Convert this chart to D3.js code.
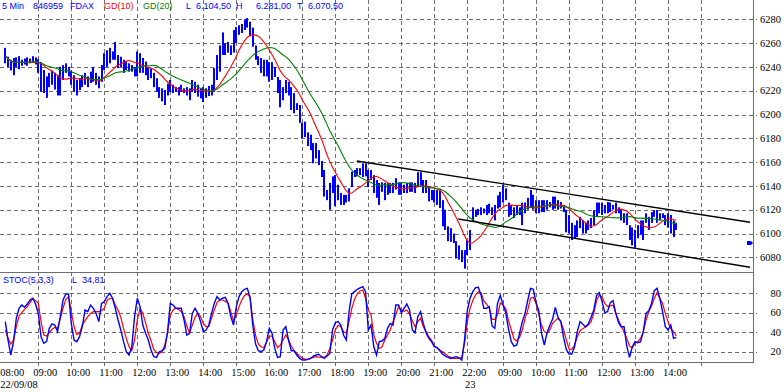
<!DOCTYPE html>
<html><head><meta charset="utf-8">
<script src="https://cdn.jsdelivr.net/npm/d3@7"></script>
<style>body{margin:0;background:#fff}svg{display:block}</style>
</head><body><svg id="c" width="784" height="392"></svg>
<script>
// ---- data (5-minute bars, FDAX 22/09/08 - 23/09/08) ----
const high = [
6256,6248.5,6246,6247.5,6248,6249,6246,6247,6248,6247,6249,6248,
6246.5,6244,6237.4,6232,6235,6237,6235,6233,6240,6241.5,6243,6240,
6237,6233,6229,6230.5,6233,6235,6232,6236,6240,6235,6232,6241.5,
6251.5,6254,6256,6253,6261,6250,6248.5,6246,6244.5,6243,6241.5,6240,
6253,6251.5,6247.5,6244.5,6240,6238.5,6235,6230.5,6223,6222,6220.6,6226,
6229,6225,6223,6223,6225,6222,6223,6222,6229,6227.5,6225,6222,
6223,6222,6224,6225,6239,6250,6258,6269,6260,6261,6258,6271,
6273.5,6275,6276,6280,6281,6278,6273,6258,6249,6247.5,6246,6246,
6244,6244,6240,6231.5,6229,6223,6229,6227.5,6223,6218,6209.5,6208,
6193,6194,6185,6183,6176,6176,6170,6161,6153.4,6136.6,6142.5,6148,
6149,6141,6134,6132.5,6132.5,6138,6152,6153.4,6155,6155,6159,6159,
6153.4,6153.4,6149,6145,6142.5,6143,6142.5,6142.5,6142.5,6142.5,6146.5,6143,
6143,6141,6142.5,6143,6143,6142.5,6151.5,6151.5,6145,6145,6139,6136.6,
6136.6,6136.6,6136.6,6128,6120,6106,6104.5,6100,6093.5,6090,6086,6086,
6094.5,
6103,6122,6120,6120.6,6122,6121,6124,6125,6122,6124,6132,6135,
6141,6138,6126,6124,6122,6124,6122,6126,6126,6130,6136.6,6132.5,
6128,6128,6128,6128,6128,6126.5,6131,6131,6128,6126.5,6124,6120,
6115.5,6109,6107,6111,6114,6111,6109,6111,6113,6119.7,6126,6126,
6126,6124,6126.5,6126,6124,6126,6122,6119.7,6117,6117,6107,6105,
6103,6107,6111,6111,6117,6114,6118,6119.7,6119.7,6117,6117,6115.5,
6117,6115.5,6111,6109];
const low = [
6243,6240,6237,6233,6240,6238,6241,6242,6241,6243,6244,6242,
6235,6219,6218,6214,6223,6225,6221,6216,6216,6229,6235,6232,
6225,6219,6216,6220.5,6223,6225,6223,6226.5,6227.5,6225,6222,6227.5,
6237.4,6240,6243,6246,6246,6239,6240,6235,6237.4,6236,6236,6232,
6232,6235,6235,6233,6229,6230.5,6223,6219,6214,6211,6208,6216,
6219,6218,6219,6216,6219,6218,6216,6212,6219,6218,6215,6213.5,
6210.5,6214,6215.5,6216,6219,6229,6236,6250,6250,6252,6250,6252,
6260,6267,6268.5,6271,6273,6266,6257,6246,6241.5,6235,6232,6232,
6227.5,6229,6231.5,6218,6206,6212,6218,6216,6203.8,6201,6203.8,6193,
6180,6181,6173.5,6170,6159,6163,6157.5,6147.5,6131,6128,6120,6134,
6123,6128,6124,6124,6126,6127,6139,6147.5,6148,6149,6147.5,6148,
6139,6145,6134,6130,6124,6135,6128,6132.5,6134,6134,6137,6132.5,
6132.5,6134,6134,6135,6135,6134,6139,6140.5,6134,6134,6127,6128,
6126,6124,6121.5,6106,6103,6093.5,6093,6092,6079,6078,6076,6070.5,
6082,
6086,6110,6114,6115.5,6115.5,6117,6115.5,6117,6115.5,6111,6121,6122,
6126,6128,6114,6115.5,6113,6115.5,6115.5,6107,6117,6120,6122,6120,
6117,6117,6118,6118,6120,6122,6120,6121,6120,6121,6118,6101,
6100,6094.5,6096,6097,6104.5,6100,6100,6103,6104.5,6107,6114,6117,
6115.5,6117,6117,6118,6120,6117,6117,6111,6109,6107,6094.5,6090,
6088,6096,6099,6094.5,6109,6103,6109,6114,6109,6111,6113,6107,
6105,6100,6097,6103];
const stochK = [
50.9,32,16.6,30.3,54.3,64.6,68,65.6,69,73.1,74.9,69,
59.4,35.4,28.6,30.3,44,48.5,47.4,40.6,56,73.1,79.3,79.3,
49.1,32,30.3,35.4,45.7,62.9,61.1,68,64.6,59.4,50.9,69.7,
71.4,76.6,80,74.9,64.6,52.6,42.3,30.3,20,16.6,25.1,56,
74.9,66.3,47.4,38.9,32,21.7,14.9,14.2,20,21,23.4,40.6,
69.7,68,64.6,64.6,64.6,52.6,37.1,38.9,59.4,64.6,59.4,50.9,
40.6,42.3,47.4,59.4,69.7,76.6,73.1,74.9,75.8,69.7,56,47.4,
66.3,76.6,81.7,84.1,85.1,76,47,28,21,20,21.7,30.3,
44,38.9,23.4,14.2,14.9,42.3,45.7,32,21,21,16.6,13.1,
11.4,11.4,12.1,13.1,15.5,16.6,17.3,14.9,13.1,15.5,18.3,42.3,
49.8,50.9,47.4,37.1,32,61.1,79.3,81.7,84.1,85.5,86.9,81.7,
42.3,47.4,25.1,16.6,30.3,31,33.7,44,49.1,47.4,68,68,
60.1,64.6,69,62.9,42.3,39.5,56,61.1,49.1,39.5,33.7,30.3,
25.1,24.1,21,17.6,15.5,14.2,13.1,14.2,14.9,13.8,11.4,32,
62.2,
74.9,81.7,85.8,86.2,78.3,64.6,64.6,66.3,46.4,44,69.7,78,
68,60,43,30.3,25.8,26.9,38.9,50.9,59.4,73.1,85.1,84.1,
70.4,62.2,38.9,26.9,39.5,47.1,53.3,65.6,55.3,50.9,34.7,22.4,
17.6,17.6,25.1,40.6,50.9,48.1,45.7,48.5,55.3,62.9,77.6,80.7,
71.4,60.1,61.1,70.4,72.5,59.4,49.8,45.7,45.7,25.8,14.2,25.1,
30.3,29.3,30.3,40.6,59.4,62.2,69.7,82.7,85.1,74.9,61.1,45.7,
42.3,47.4,33.7,34.81];
const stochD = [
42.3,33.7,27.9,32,45.7,56.7,60.1,63.5,66.3,70.4,74.5,72.5,
69.7,50.9,37.1,36.1,39.5,43,45,44,54.3,64.6,73.8,76.6,
61.1,45.7,37.8,38.9,47.4,51.9,56,59.4,61.1,61.1,61.1,62.2,
64.6,72.5,74.9,74.9,68,62.9,55.3,44,33.7,25.1,21,32,
52.6,64.6,59.4,49.8,38.9,31.3,22.4,19,18.3,20,26.9,38.9,
57.7,62.9,64.6,63.5,61.1,56,46.4,38.9,47.4,55.3,59.4,56,
49.1,45.7,45.7,54.3,62.9,70.4,73.1,73.1,71.7,69.7,61.1,51.9,
57.7,66.3,73.1,77.9,79.3,76,52.6,36.8,27.9,25.1,24.1,29.9,
36.1,36.1,30.3,24.1,26.9,32,37.1,32,25.8,21,18.3,15.5,
13.5,12.1,12.4,13.1,14.2,14.9,14.5,14.2,14.2,16.6,23.4,32,
42.3,47.1,45.7,40.6,38.9,50.9,64.6,73.8,79.3,82.4,83.4,74.9,
62.9,57.7,37.1,28.6,23.4,25.1,32,37.1,42.3,50.9,57.7,66.3,
62.9,61.5,62.9,58.7,51.9,45.7,50.9,54.3,45.7,40.6,35.4,32,
25.8,24.1,21.7,20,17.6,15.5,14.2,13.1,13.1,13.1,14.2,28.6,
50.9,
64.6,72.5,78.3,81.7,80.7,72.5,69,64.6,53.3,53.3,57.7,70,
68,64,52,42.3,33,31,34.7,42.3,54.3,62.9,74.9,75.9,
69.7,58,47.4,40.6,38.9,42.3,49.1,51.9,54.3,50.9,43,32,
22.8,22.4,26.9,35.4,41.6,43.7,45.4,47.4,50.9,59.4,72.5,78.3,
76,69.7,66.3,67,68,59.4,52.6,45.7,40.6,33.7,25.8,24.1,
28.3,30.3,33.7,40.6,52.6,61.1,67,74.9,80.7,74.9,69.7,59.4,
50.9,43.7,40.6,36.1];
const priceTicks = [6080,6100,6120,6140,6160,6180,6200,6220,6240,6260,6280];
const stochTicks = [20,40,60,80];
const timeLabels = ["08:00","09:00","10:00","11:00","12:00","13:00","14:00","15:00","16:00","17:00","18:00","19:00","20:00","21:00","22:00","09:00","10:00","11:00","12:00","13:00","14:00"];
const timeBars = [0,12,24,36,48,60,72,84,96,108,120,132,144,156,168,181,193,205,217,229,241];
const gridBars = [12,24,36,48,60,72,84,96,108,120,132,144,156,168,181,193,205,217,229,241,253];
const dateLabels = ["22/09/08","23"];
const dateBars = [0,169];
const channelUpper = [[127.8,6160.9],[270.8,6109.4]];
const channelLower = [[164.7,6112.2],[270.8,6071.6]];
const lastPrice = 6092;
const maPeriods = [10,20];
const maColors = ["#ff0000","#008000"];

// ---- layout ----
const svg = d3.select("#c");
const right = 753, pTop = 0, pBot = 272, sBot = 362;
const x = d3.scaleLinear().domain([0,270.8]).range([5.3,750]);
const yP = d3.scaleLinear().domain([6080,6280]).range([257.3,19.3]);
const yS = d3.scaleLinear().domain([20,80]).range([351.7,293.3]);
const gridCol = "#6e6e6e";

const defs = svg.append("defs");
defs.append("clipPath").attr("id","cp").append("rect").attr("x",0).attr("y",pTop).attr("width",right).attr("height",pBot-pTop);
defs.append("clipPath").attr("id","cs").append("rect").attr("x",0).attr("y",pBot).attr("width",right).attr("height",sBot-pBot);

// grid
const g = svg.append("g").attr("stroke",gridCol).attr("stroke-dasharray","4,3").attr("shape-rendering","crispEdges");
priceTicks.forEach(v=>g.append("line").attr("x1",0).attr("x2",right+4).attr("y1",Math.round(yP(v))+0.5).attr("y2",Math.round(yP(v))+0.5));
stochTicks.forEach(v=>g.append("line").attr("x1",0).attr("x2",right+4).attr("y1",Math.round(yS(v))+0.5).attr("y2",Math.round(yS(v))+0.5));
gridBars.forEach(b=>{
  const xx = Math.round(x(b))+0.5;
  g.append("line").attr("x1",xx).attr("x2",xx).attr("y1",pTop).attr("y2",pBot);
  g.append("line").attr("x1",xx).attr("x2",xx).attr("y1",pBot).attr("y2",sBot+4);
});

// frame
const fr = svg.append("g").attr("stroke","#6e6e6e").attr("stroke-width",1).attr("shape-rendering","crispEdges");
fr.append("line").attr("x1",right+0.5).attr("x2",right+0.5).attr("y1",0).attr("y2",sBot+0.5);
fr.append("line").attr("x1",0).attr("x2",right+0.5).attr("y1",pBot+0.5).attr("y2",pBot+0.5);
fr.append("line").attr("x1",0).attr("x2",right+0.5).attr("y1",sBot+0.5).attr("y2",sBot+0.5);

// price bars
const pg = svg.append("g").attr("clip-path","url(#cp)");
pg.append("g").selectAll("rect").data(high).join("rect")
  .attr("x",(d,i)=>Math.round(x(i))-1).attr("width",2)
  .attr("y",(d,i)=>yP(d)).attr("height",(d,i)=>Math.max(1,yP(low[i])-yP(d)))
  .attr("fill","#0000ff");

// moving averages (GD) of bar mid prices
const mid = high.map((h,i)=>(h+low[i])/2);
maPeriods.forEach((n,k)=>{
  const ma = mid.map((_,i)=>d3.mean(mid.slice(Math.max(0,i-n+1),i+1)));
  pg.append("path").datum(ma).attr("fill","none").attr("stroke",maColors[k]).attr("stroke-width",1.1)
    .attr("d",d3.line().x((d,i)=>x(i)).y(d=>yP(d)));
});

// channel lines
[channelUpper,channelLower].forEach(c=>{
  pg.append("line").attr("x1",x(c[0][0])).attr("y1",yP(c[0][1])).attr("x2",x(c[1][0])).attr("y2",yP(c[1][1]))
    .attr("stroke","#000").attr("stroke-width",1.4);
});

// last price marker
const my = yP(lastPrice);
svg.append("path").attr("d",`M747,${my-2}L751,${my-2}L753,${my}L751,${my+2}L747,${my+2}Z`).attr("fill","#0000ff");

// stochastic
const sg = svg.append("g").attr("clip-path","url(#cs)");
sg.append("path").datum(stochD).attr("fill","none").attr("stroke","#ff0000").attr("stroke-width",1.2)
  .attr("d",d3.line().x((d,i)=>x(i)).y(d=>yS(d)));
sg.append("path").datum(stochK).attr("fill","none").attr("stroke","#0000ff").attr("stroke-width",1.4)
  .attr("d",d3.line().x((d,i)=>x(i)).y(d=>yS(d)));

// axis labels
const serif = "'Liberation Serif','Times New Roman',serif";
const ax = svg.append("g").attr("font-family",serif).attr("font-size",10.5).attr("fill","#000");
priceTicks.forEach(v=>ax.append("text").attr("x",781).attr("y",yP(v)).attr("dy","0.35em").attr("text-anchor","end").text(v));
stochTicks.forEach(v=>ax.append("text").attr("x",781).attr("y",yS(v)).attr("dy","0.35em").attr("text-anchor","end").text(v));
timeLabels.forEach((t,k)=>ax.append("text").attr("x",x(timeBars[k])-5).attr("y",376).text(t));
dateLabels.forEach((t,k)=>ax.append("text").attr("x",x(dateBars[k])-5).attr("y",388).text(t));

// header
const sans = "'Liberation Sans',Arial,sans-serif";
const hd = svg.append("g").attr("font-family",sans).attr("font-size",9);
[["5 Min",2,"#0000ff"],["846959",33,"#0000ff"],["FDAX",70,"#0000ff"],["GD(10)",104,"#ff0000"],["GD(20)",143,"#008000"],
 ["L",186,"#0000ff"],["6.104,50",196,"#0000ff"],["H",236,"#0000ff"],["6.281,00",256,"#0000ff"],["T",297,"#0000ff"],["6.070,50",308,"#0000ff"]]
 .forEach(d=>hd.append("text").attr("x",d[1]).attr("y",9).attr("fill",d[2]).text(d[0]));
[["STOC(5,3,3)",3,"#0000ff"],["L",72,"#0000ff"],["34,81",82,"#0000ff"]]
 .forEach(d=>hd.append("text").attr("x",d[1]).attr("y",283).attr("fill",d[2]).text(d[0]));
</script></body></html>
